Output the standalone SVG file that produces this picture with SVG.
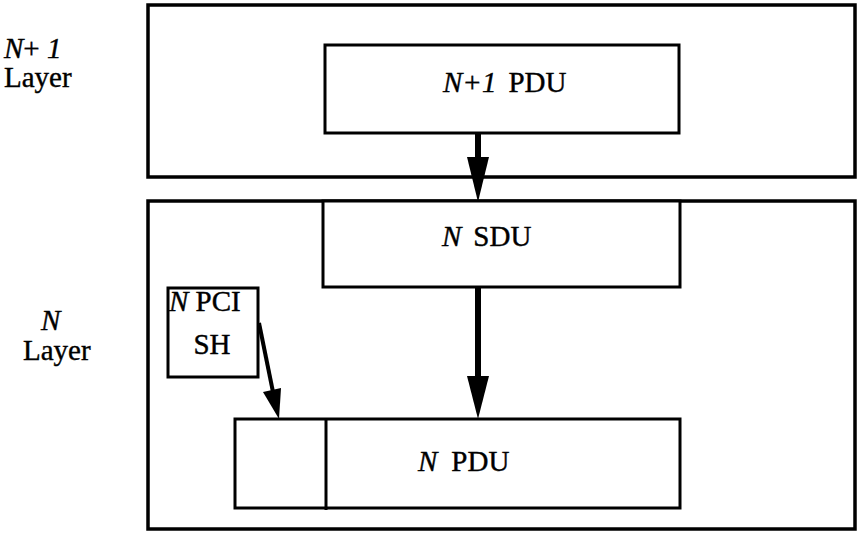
<svg xmlns="http://www.w3.org/2000/svg" width="859" height="533" viewBox="0 0 859 533">
<defs>
<style>
.box{fill:none;stroke:#000;stroke-width:3.5}
.inner{fill:#fff;stroke:#000;stroke-width:3}
.t{font-family:"Liberation Serif","Times New Roman",serif;font-size:29px;fill:#000;stroke:#000;stroke-width:0.4}
.i{font-style:italic}
.arrow{stroke:#000;fill:none}
</style>
</defs>
<rect width="859" height="533" fill="#fff"/>
<g id="label-n1-layer">
<text class="t" x="4" y="58" font-size="27"><tspan class="i">N</tspan>+ <tspan class="i">1</tspan></text>
<text class="t" x="4" y="87" font-size="27">Layer</text>
</g>
<g id="label-n-layer">
<text class="t i" x="41" y="330" font-size="27">N</text>
<text class="t" x="23" y="360" font-size="27">Layer</text>
</g>
<g id="n1-layer-box"><rect class="box" x="148" y="5" width="707" height="172"/></g>
<g id="n-layer-box"><rect class="box" x="148" y="201" width="707" height="328"/></g>
<g id="n1-pdu">
<rect class="inner" x="325" y="45" width="354" height="88"/>
<text class="t" x="443" y="92"><tspan class="i">N+1</tspan><tspan dx="12">PDU</tspan></text>
</g>
<g id="n-sdu">
<rect class="inner" x="323" y="201" width="357" height="86"/>
<text class="t" x="442" y="246"><tspan class="i">N</tspan><tspan dx="12">SDU</tspan></text>
</g>
<g id="n-pci-sh">
<rect class="inner" x="168" y="288" width="90" height="89"/>
<text class="t" x="169" y="311" font-size="24"><tspan class="i">N</tspan> PCI</text>
<text class="t" x="212" y="354" text-anchor="middle">SH</text>
</g>
<g id="n-pdu">
<rect class="inner" x="235" y="419" width="445" height="89"/>
<line x1="326" y1="419" x2="326" y2="510" stroke="#000" stroke-width="3"/>
<text class="t" x="418" y="471"><tspan class="i">N</tspan><tspan dx="14">PDU</tspan></text>
</g>
<g id="connectors">
<line class="arrow" x1="478" y1="133" x2="478" y2="160" stroke-width="6"/>
<polygon points="467,157 489,157 478,202" fill="#000"/>
<line class="arrow" x1="478" y1="287" x2="478" y2="380" stroke-width="6"/>
<polygon points="467,376 489,376 478,419" fill="#000"/>
<line class="arrow" x1="259" y1="323" x2="273" y2="392" stroke-width="4"/>
<polygon points="263,392 281,388 279,419" fill="#000"/>
</g>
</svg>
